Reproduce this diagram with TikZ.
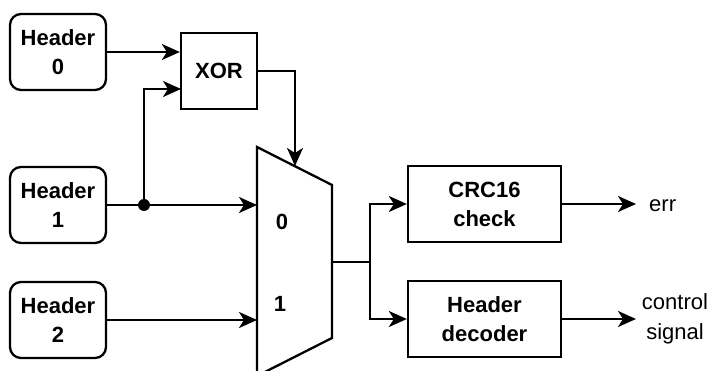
\documentclass[tikz,border=0pt]{standalone}
\usepackage{fontspec}
\setmainfont{Liberation Sans}
\usetikzlibrary{arrows.meta}
\begin{document}
\begin{tikzpicture}[x=1pt,y=-1pt,
  box/.style={draw, line width=2.3pt, minimum width=96pt, minimum height=76pt, align=center,
    font=\fontsize{22}{29}\selectfont\bfseries, inner sep=0pt},
  hdr/.style={box, rounded corners=11pt},
  wire/.style={line width=2.3pt},
  arr/.style={wire, -{Stealth[length=18pt, width=16pt, inset=5pt]}},
  lbl/.style={font=\fontsize{22}{30}\selectfont, align=center, inner sep=0pt},
  muxlbl/.style={font=\fontsize{22}{25}\selectfont\bfseries, inner sep=0pt}]
\useasboundingbox (0,0) rectangle (713,371);
% header boxes
\node[hdr] (h0) at (58,52) {Header\\0};
\node[hdr] (h1) at (58,205) {Header\\1};
\node[hdr] (h2) at (58,320) {Header\\2};
\node[box, minimum width=76pt] (xor) at (219,71) {XOR};
\node[box, minimum width=153pt] (crc) at (484.5,204) {CRC16\\check};
\node[box, minimum width=153pt] (hd) at (484.5,319) {Header\\decoder};
% mux
\draw[wire, line join=miter] (257,147) -- (332,185) -- (332,338) -- (257,376) -- cycle;
\coordinate (m0) at (257,205);
\coordinate (m1) at (257,320);
\coordinate (msel) at (295,166);
\coordinate (mout) at (332,262);
\coordinate (split) at (370,262);
\coordinate (x1) at (181,89);
\node[muxlbl] (l0) at (282,222) {0};
\node[muxlbl] (l1) at (280,304) {1};
% junction dot
\node[circle, fill, inner sep=0pt, minimum size=12pt] (dot) at (144,205) {};
% outputs
\node[lbl, anchor=west] (err) at (649,206) {err};
\node[lbl] (ctl) at (675,319) {control\\signal};
\coordinate (errin) at (636,204);
\coordinate (ctlin) at (636,319);
% wires
\draw[arr] (h0.east) -- (h0.east -| xor.west);
\draw[wire] (h1.east) -- (dot);
\draw[arr] (dot) -- (m0);
\draw[arr] (dot) |- (x1);
\draw[arr] (h2.east) -- (m1);
\draw[arr] (xor.east) -| (msel);
\draw[wire] (mout) -- (split);
\draw[arr] (split) |- (crc.west);
\draw[arr] (split) |- (hd.west);
\draw[arr] (crc.east) -- (errin);
\draw[arr] (hd.east) -- (ctlin);
\end{tikzpicture}
\end{document}
